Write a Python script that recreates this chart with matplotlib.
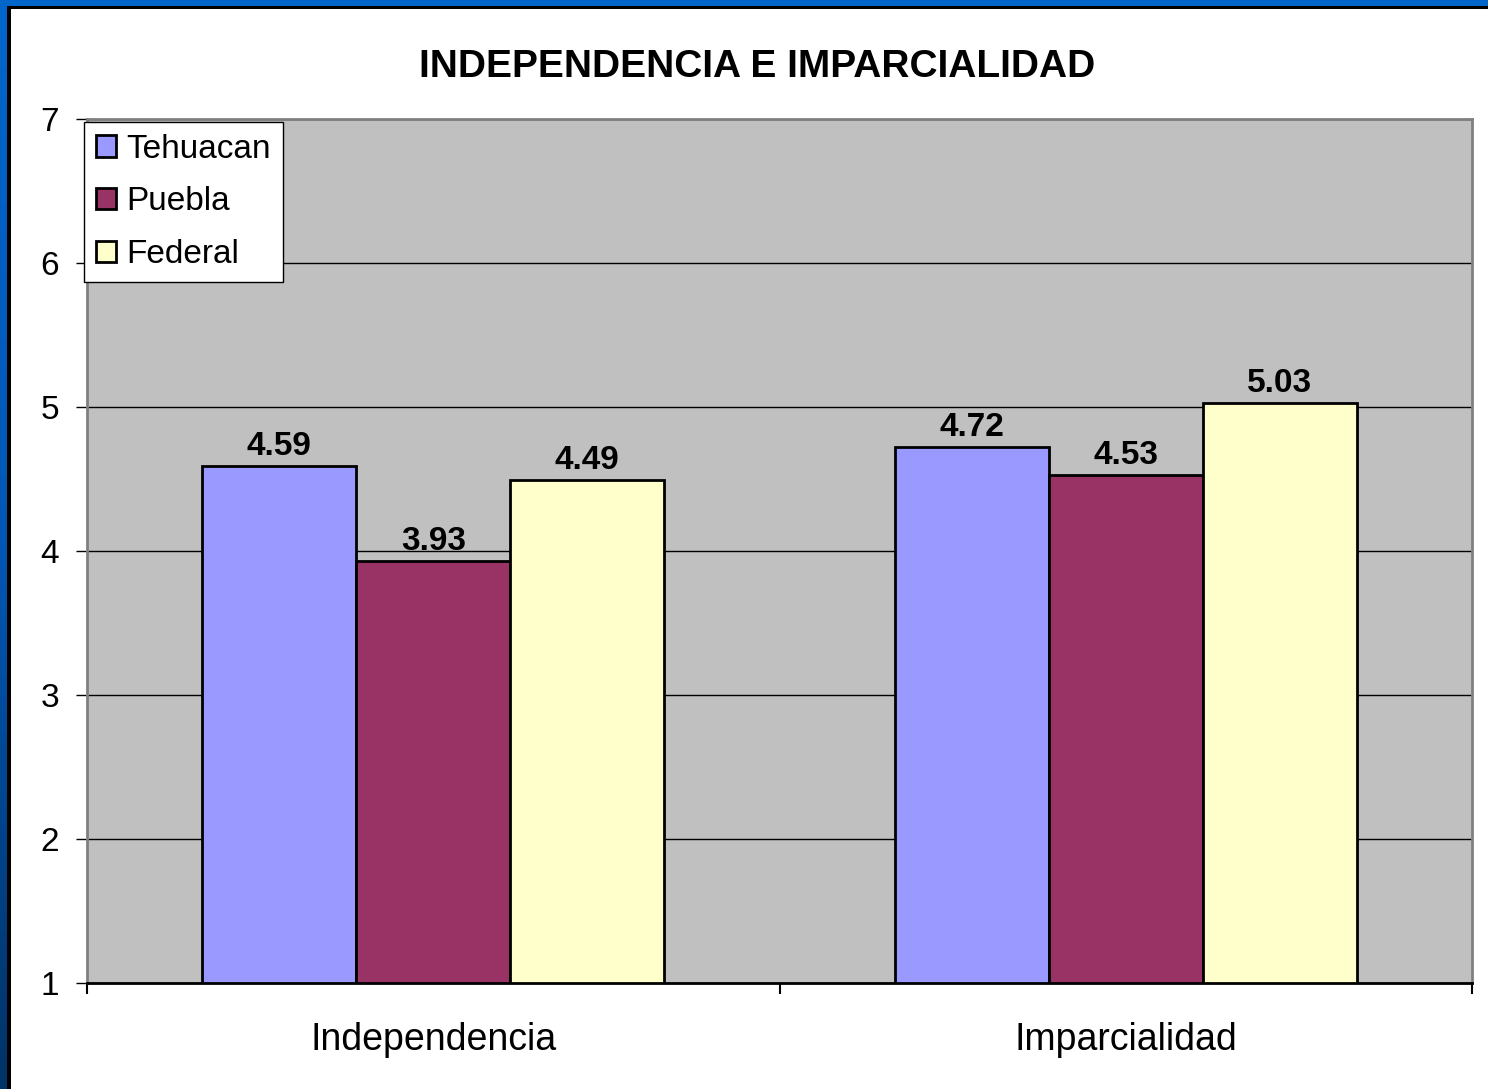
import numpy as np
import matplotlib as mpl
import matplotlib.pyplot as plt
from matplotlib.patches import Rectangle
from matplotlib.colors import LinearSegmentedColormap

mpl.use('Agg')
plt.rcParams['font.family'] = ['Liberation Sans', 'DejaVu Sans']

categories = ["Independencia", "Imparcialidad"]
series = ["Tehuacan", "Puebla", "Federal"]
tehuacan = [4.59, 4.72]
puebla = [3.93, 4.53]
federal = [4.49, 5.03]
values = [tehuacan, puebla, federal]
colors = ["#9999FF", "#993366", "#FFFFCC"]

W, H = 1488, 1089
fig = plt.figure(figsize=(W / 100, H / 100), dpi=100, facecolor='white')

# slide frame: blue strips on top and left, black inner line
side = fig.add_axes([0, 0, 7 / W, 1], zorder=-10)
grad = np.linspace(0, 1, 256).reshape(-1, 1)
cmap = LinearSegmentedColormap.from_list('slide', ['#0066CC', '#0056B4', '#003366'])
side.imshow(grad, aspect='auto', cmap=cmap, extent=[0, 1, 0, 1])
side.set_axis_off()
fig.add_artist(Rectangle((0, 1 - 6 / H), 1, 6 / H, facecolor='#0066CC',
                         edgecolor='none', transform=fig.transFigure, zorder=-6))
fig.add_artist(Rectangle((7 / W, 1 - 9 / H), 1, 3 / H, facecolor='black',
                         edgecolor='none', transform=fig.transFigure, zorder=-5))
fig.add_artist(Rectangle((7 / W, 0), 4 / W, 1 - 6 / H, facecolor='black',
                         edgecolor='none', transform=fig.transFigure, zorder=-5))

ax = fig.add_axes([87 / W, 1 - 983 / H, (1472 - 87) / W, (983 - 119) / H])
ax.set_facecolor('#C0C0C0')

x = np.arange(len(categories))
bw = 1 / 4.5
for i in range(len(series)):
    pos = x + (i - 1) * bw
    ax.bar(pos, np.array(values[i]) - 1, bottom=1, width=bw, color=colors[i],
           edgecolor='black', linewidth=2, label=series[i], zorder=3)
    for xi, v in zip(pos, values[i]):
        ax.annotate(f"{v:.2f}", (xi, v), xytext=(0, 3), textcoords='offset points',
                    ha='center', va='bottom', fontsize=24, fontweight='bold', zorder=4)

ax.set_ylim(1, 7)
ax.set_xlim(-0.5, 1.5)
ax.set_yticks(range(1, 8))
ax.yaxis.grid(True, color='black', linewidth=1)
ax.set_axisbelow(True)
ax.tick_params(axis='y', length=8, width=1, pad=12, labelsize=24, direction='out')

ax.set_xticks(x)
ax.set_xticklabels(categories, fontsize=27)
ax.set_xticks([-0.5, 0.5, 1.5], minor=True)
ax.tick_params(axis='x', which='major', length=0, pad=28)
ax.tick_params(axis='x', which='minor', length=8, width=1.5, direction='out')

for s in ['top', 'right', 'left']:
    ax.spines[s].set_color('#808080')
    ax.spines[s].set_linewidth(2)
ax.spines['bottom'].set_color('black')
ax.spines['bottom'].set_linewidth(2)

leg = ax.legend(loc='upper left', bbox_to_anchor=(84 / W, 1 - 122 / H),
                bbox_transform=fig.transFigure, borderaxespad=0, fontsize=24,
                fancybox=False, framealpha=1, edgecolor='black',
                handlelength=0.6, handleheight=0.6, handletextpad=0.33,
                labelspacing=0.65, borderpad=0.35)
leg.get_frame().set_linewidth(1)
leg.set_zorder(5)
for h in leg.legend_handles:
    h.set_linewidth(2)

fig.text(757 / W, 1 - 67 / H, "INDEPENDENCIA E IMPARCIALIDAD", ha='center', va='center',
         fontsize=28, fontweight='bold')

fig.savefig("out.png", dpi=100, facecolor='white')
